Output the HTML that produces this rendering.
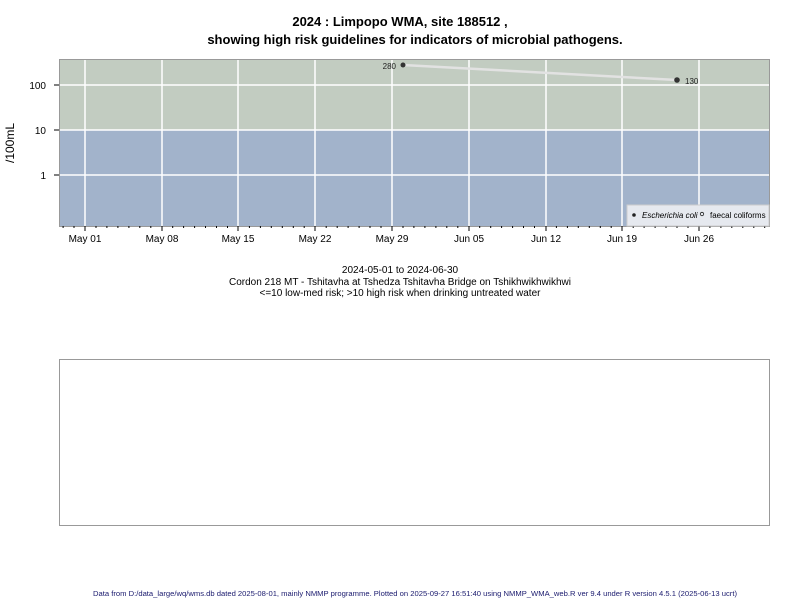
<!DOCTYPE html>
<html><head><meta charset="utf-8"><style>
html,body{margin:0;padding:0;background:#fff;}
svg{display:block;font-family:"Liberation Sans",Arial,sans-serif;}
</style></head><body>
<svg width="800" height="600" viewBox="0 0 800 600">
<rect width="800" height="600" fill="#fff"/>
<text x="400" y="26" text-anchor="middle" font-size="13" font-weight="bold" fill="#000">2024 : Limpopo WMA, site 188512 ,</text>
<text x="415" y="44" text-anchor="middle" font-size="13" font-weight="bold" fill="#000">showing high risk guidelines for indicators of microbial pathogens.</text>
<rect x="59" y="59" width="710" height="71" fill="#c2ccc1"/>
<rect x="59" y="130" width="710" height="96" fill="#a2b3cb"/>
<g stroke="#fff" stroke-width="1.5">
<line x1="59" y1="85" x2="769" y2="85"/><line x1="59" y1="130" x2="769" y2="130"/><line x1="59" y1="175" x2="769" y2="175"/>
<line x1="85" y1="59" x2="85" y2="226"/><line x1="162" y1="59" x2="162" y2="226"/><line x1="238" y1="59" x2="238" y2="226"/><line x1="315" y1="59" x2="315" y2="226"/><line x1="392" y1="59" x2="392" y2="226"/><line x1="469" y1="59" x2="469" y2="226"/><line x1="546" y1="59" x2="546" y2="226"/><line x1="622" y1="59" x2="622" y2="226"/><line x1="699" y1="59" x2="699" y2="226"/>
</g>
<rect x="59.5" y="59.5" width="710" height="167" fill="none" stroke="#999" stroke-width="1"/>
<path stroke="#000" stroke-width="1" fill="none" d="M63.1 226v2M74 226v2M96 226v2M106.9 226v2M117.9 226v2M128.9 226v2M139.8 226v2M150.8 226v2M172.7 226v2M183.6 226v2M194.6 226v2M205.5 226v2M216.5 226v2M227.5 226v2M249.4 226v2M260.4 226v2M271.3 226v2M282.3 226v2M293.3 226v2M304.2 226v2M326.2 226v2M337.2 226v2M348.1 226v2M359.1 226v2M370 226v2M381 226v2M403 226v2M413.9 226v2M424.9 226v2M435.9 226v2M446.8 226v2M457.8 226v2M479.7 226v2M490.7 226v2M501.6 226v2M512.6 226v2M523.5 226v2M534.5 226v2M556.4 226v2M567.4 226v2M578.3 226v2M589.3 226v2M600.3 226v2M611.2 226v2M633.2 226v2M644.1 226v2M655.1 226v2M666 226v2M677 226v2M688 226v2M709.9 226v2M720.9 226v2M731.8 226v2M742.8 226v2M753.8 226v2M764.7 226v2"/>
<path stroke="#000" stroke-width="1" fill="none" d="M85 226v5M162 226v5M238 226v5M315 226v5M392 226v5M469 226v5M546 226v5M622 226v5M699 226v5"/>
<g font-size="10" fill="#000" text-anchor="middle">
<text x="85" y="242">May 01</text><text x="162" y="242">May 08</text><text x="238" y="242">May 15</text><text x="315" y="242">May 22</text><text x="392" y="242">May 29</text><text x="469" y="242">Jun 05</text><text x="546" y="242">Jun 12</text><text x="622" y="242">Jun 19</text><text x="699" y="242">Jun 26</text>
</g>
<g stroke="#000"><line x1="54" y1="85" x2="59" y2="85"/><line x1="54" y1="130" x2="59" y2="130"/><line x1="54" y1="175" x2="59" y2="175"/></g>
<g font-size="10" fill="#000" text-anchor="end">
<text x="46" y="89">100</text><text x="46" y="134">10</text><text x="46" y="179">1</text>
</g>
<text transform="translate(14,143) rotate(-90)" text-anchor="middle" font-size="12" fill="#000">/100mL</text>
<polyline points="403,65 677,80" fill="none" stroke="#e2e2e2" stroke-width="2.5"/>
<circle cx="403" cy="65" r="2.5" fill="#333"/>
<circle cx="677" cy="80" r="2.8" fill="#333"/>
<text x="396" y="69" text-anchor="end" font-size="8" fill="#222">280</text>
<text x="685" y="84" font-size="8" fill="#222">130</text>
<rect x="627" y="205" width="142" height="21" fill="#e6e9ef" stroke="#ccc"/>
<circle cx="634" cy="215" r="1.8" fill="#222"/>
<text x="642" y="218" font-size="8" font-style="italic" fill="#000">Escherichia coli</text>
<circle cx="702" cy="214" r="1.7" fill="none" stroke="#222" stroke-width="0.8"/>
<text x="710" y="218" font-size="8" fill="#000">faecal coliforms</text>
<g font-size="10" fill="#000" text-anchor="middle">
<text x="400" y="273">2024-05-01 to 2024-06-30</text>
<text x="400" y="285">Cordon 218 MT - Tshitavha at Tshedza Tshitavha Bridge on Tshikhwikhwikhwi</text>
<text x="400" y="296">&lt;=10 low-med risk; &gt;10 high risk when drinking untreated water</text>
</g>
<rect x="59.5" y="359.5" width="710" height="166" fill="none" stroke="#999"/>
<text x="415" y="596" text-anchor="middle" font-size="7" textLength="644" lengthAdjust="spacingAndGlyphs" fill="#1a1a6e">Data from D:/data_large/wq/wms.db dated 2025-08-01, mainly NMMP programme. Plotted on 2025-09-27 16:51:40 using NMMP_WMA_web.R ver 9.4 under R version 4.5.1 (2025-06-13 ucrt)</text>
</svg>
</body></html>
